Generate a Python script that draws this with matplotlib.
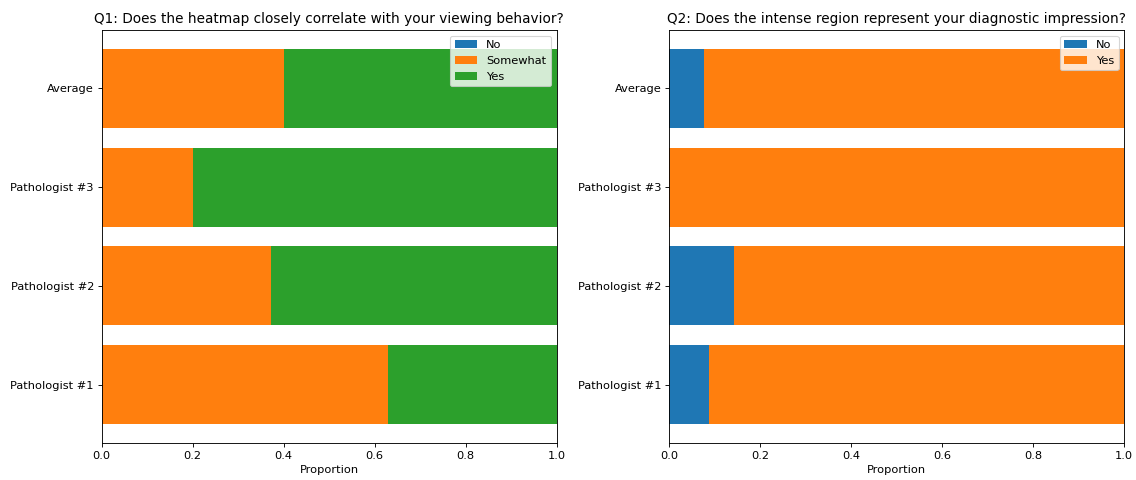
import matplotlib
matplotlib.use("Agg")
import matplotlib.pyplot as plt
import numpy as np

plt.rcParams["font.size"] = 10.2

raters = ["Pathologist #1", "Pathologist #2", "Pathologist #3", "Average"]

# Q1 answers (proportions)
q1_no = [0.0, 0.0, 0.0, 0.0]
q1_somewhat = [0.629, 0.372, 0.2, 0.4]
q1_yes = [0.371, 0.628, 0.8, 0.6]

# Q2 answers (proportions)
q2_no = [0.087, 0.143, 0.0, 0.077]
q2_yes = [0.913, 0.857, 1.0, 0.923]

fig, (ax1, ax2) = plt.subplots(1, 2, figsize=(14.2, 6), dpi=80)

# Q1 stacked bars
left = np.zeros(len(raters))
for vals, name in [(q1_no, "No"), (q1_somewhat, "Somewhat"), (q1_yes, "Yes")]:
    ax1.barh(raters, vals, left=left, label=name)
    left += np.array(vals)
ax1.set_xlim(0, 1)
ax1.set_xlabel("Proportion")
ax1.set_title("Q1: Does the heatmap closely correlate with your viewing behavior?")
ax1.legend(loc="upper right")

# Q2 stacked bars
left = np.zeros(len(raters))
for vals, name in [(q2_no, "No"), (q2_yes, "Yes")]:
    ax2.barh(raters, vals, left=left, label=name)
    left += np.array(vals)
ax2.set_xlim(0, 1)
ax2.set_xlabel("Proportion")
ax2.set_title("Q2: Does the intense region represent your diagnostic impression?")
ax2.legend(loc="upper right")

fig.subplots_adjust(left=0.0895, right=0.9897, top=0.9375, bottom=0.077, wspace=0.248)
plt.savefig("out.png")
